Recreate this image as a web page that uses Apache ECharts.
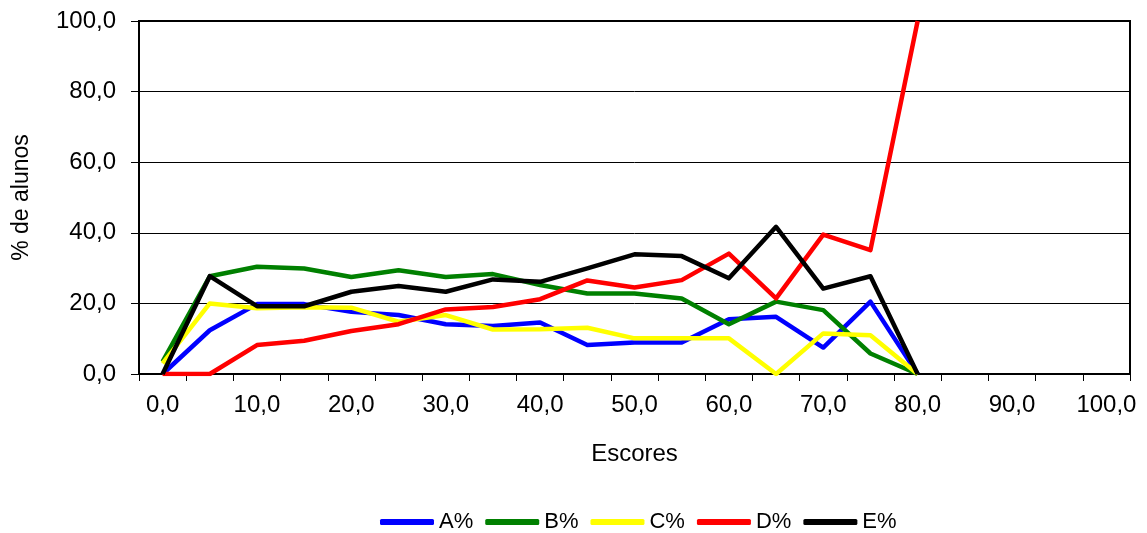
<!DOCTYPE html>
<html>
<head>
<meta charset="utf-8">
<script src="https://cdn.jsdelivr.net/npm/echarts@6/dist/echarts.min.js"></script>
<style>
html,body{margin:0;padding:0;background:#fff;}
#chart{width:1147px;height:533px;}
</style>
</head>
<body>
<div id="chart"></div>
<script>
var categories = ['0,0','5,0','10,0','15,0','20,0','25,0','30,0','35,0','40,0','45,0','50,0','55,0','60,0','65,0','70,0','75,0','80,0','85,0','90,0','95,0','100,0'];
var seriesNames = ['A%','B%','C%','D%','E%'];
var valuesA = [0, 12.4, 19.8, 19.8, 17.6, 16.7, 14.1, 13.6, 14.6, 8.2, 8.9, 8.9, 15.5, 16.2, 7.5, 20.5, 0];
var valuesB = [3.5, 27.7, 30.4, 29.9, 27.5, 29.4, 27.5, 28.3, 25.2, 22.8, 22.8, 21.4, 14.1, 20.5, 18.1, 5.8, 0];
var valuesC = [3.0, 20.0, 18.6, 18.9, 18.8, 14.8, 16.7, 12.6, 12.7, 13.1, 10.1, 10.1, 10.1, 0, 11.5, 11.0, 0];
var valuesD = [0, 0, 8.2, 9.4, 12.2, 14.1, 18.3, 19.0, 21.2, 26.5, 24.5, 26.6, 34.1, 21.4, 39.5, 35.1, 100];
var valuesE = [0, 27.7, 19.2, 19.2, 23.3, 24.9, 23.3, 26.8, 26.1, 29.9, 33.9, 33.4, 27.1, 41.7, 24.2, 27.7, 0];
var colors = ['#0000ff', '#008000', '#ffff00', '#ff0000', '#000000'];

var FONT = "'Liberation Sans', Arial, sans-serif";
var allValues = [valuesA, valuesB, valuesC, valuesD, valuesE];

var chart = echarts.init(document.getElementById('chart'), null, {renderer: 'canvas'});
chart.setOption({
  animation: false,
  backgroundColor: '#fff',
  textStyle: {fontFamily: FONT},
  grid: {
    left: 139, right: 17, top: 21, bottom: 159,
    show: true, borderColor: '#000', borderWidth: 2, backgroundColor: 'transparent'
  },
  legend: {
    left: 375, top: 506,
    itemWidth: 54, itemHeight: 6, itemGap: 12,
    icon: 'roundRect',
    textStyle: {fontFamily: FONT, fontSize: 22, color: '#000'},
    data: seriesNames
  },
  xAxis: {
    type: 'category',
    data: categories,
    boundaryGap: true,
    name: 'Escores',
    nameLocation: 'middle',
    nameGap: 68,
    nameTextStyle: {fontFamily: FONT, fontSize: 24, color: '#000'},
    axisLine: {lineStyle: {color: '#000', width: 2}},
    axisTick: {show: true, interval: 0, length: 7, lineStyle: {color: '#000', width: 1}},
    axisLabel: {interval: 1, margin: 19, fontFamily: FONT, fontSize: 24, color: '#000'},
    splitLine: {show: false}
  },
  yAxis: {
    type: 'value',
    min: 0, max: 100, interval: 20,
    name: '% de alunos',
    nameLocation: 'middle',
    nameRotate: 90,
    nameGap: 106,
    nameTextStyle: {fontFamily: FONT, fontSize: 23, color: '#000'},
    axisLine: {show: true, lineStyle: {color: '#000', width: 2}},
    axisTick: {show: true, length: 8, lineStyle: {color: '#000', width: 1}},
    axisLabel: {
      margin: 23, fontFamily: FONT, fontSize: 24, color: '#000',
      formatter: function (v) { return v.toFixed(1).replace('.', ','); }
    },
    splitLine: {show: true, lineStyle: {color: '#000', width: 1}}
  },
  series: seriesNames.map(function (n, i) {
    return {
      name: n,
      type: 'line',
      data: allValues[i],
      symbol: 'none',
      showSymbol: false,
      color: colors[i],
      lineStyle: {color: colors[i], width: 4.5, join: 'round'},
      itemStyle: {color: colors[i]},
      clip: true
    };
  })
});
</script>
</body>
</html>
